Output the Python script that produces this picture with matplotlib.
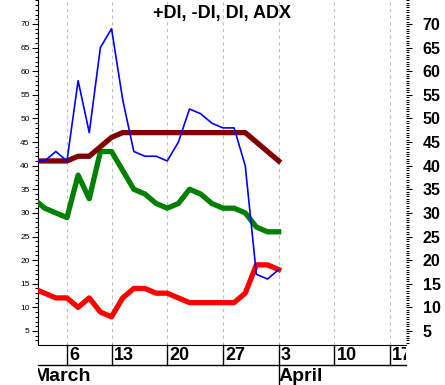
import matplotlib
matplotlib.use("Agg")
import matplotlib.pyplot as plt
import numpy as np
from matplotlib.transforms import Bbox, TransformedBbox
from matplotlib.ticker import MultipleLocator

plt.rcParams['font.family'] = ['Liberation Sans', 'DejaVu Sans']

# trading sessions, 0 = Mar 6
session = np.arange(-3, 20)
plus_di = [41, 41, 43, 41, 58, 47, 65, 69, 54, 43, 42, 42, 41, 45, 52, 51, 49, 48, 48, 40, 17, 16, 18]
minus_di = [14, 13, 12, 12, 10, 12, 9, 8, 12, 14, 14, 13, 13, 12, 11, 11, 11, 11, 11, 13, 19, 19, 18]
di = [33, 31, 30, 29, 38, 33, 43, 43, 39, 35, 34, 32, 31, 32, 35, 34, 32, 31, 31, 30, 27, 26, 26]
adx = [41, 41, 41, 41, 42, 42, 44, 46, 47, 47, 47, 47, 47, 47, 47, 47, 47, 47, 47, 47, 45, 43, 41]

week_pos = [0, 4, 9, 14, 19, 24, 29]
week_labels = ['6', '13', '20', '27', '3', '10', '17']
months = [('March', -3.0), ('April', 19)]

fig = plt.figure(figsize=(4.45, 3.85), dpi=100)
ax = fig.add_axes([38 / 445, 40 / 385, 368 / 445, 345 / 385])

for p in week_pos:
    ax.axvline(p, color='#c0c0c0', lw=0.8, ls=(0, (3, 3)), zorder=0)

ax.plot(session, minus_di, color='#ff0000', lw=3.8, zorder=3)
ax.plot(session, di, color='#008000', lw=3.8, zorder=3)
ax.plot(session, adx, color='#800000', lw=3.8, zorder=3)
ax.plot(session, plus_di, color='#0000ff', lw=1.2, zorder=4)

ax.set_xlim(-2.6, 30.43)
ax.set_ylim(2.03, 75.08)

ax.spines['top'].set_visible(False)
ax.spines['right'].set_visible(False)
ax.set_xticks([])
ax.yaxis.set_minor_locator(MultipleLocator(1))
ax.set_yticks(np.arange(5, 71, 5))
ax.tick_params(axis='y', which='major', length=4, width=0.8, labelsize=6, pad=2)
ax.tick_params(axis='y', which='minor', length=2, width=0.8)

ax2 = ax.twinx()
ax2.set_ylim(ax.get_ylim())
for s in ax2.spines.values():
    s.set_visible(False)
ax2.set_yticks(np.arange(5, 71, 5))
ax2.yaxis.set_minor_locator(MultipleLocator(0.5))
ax2.tick_params(axis='y', which='major', length=4, width=0.8, labelsize=11.5, pad=8)
ax2.tick_params(axis='y', which='minor', length=2.2, width=0.8)
for lbl in ax2.get_yticklabels():
    lbl.set_fontweight('bold')

ax.text(0.5, 0.96, '+DI, -DI, DI, ADX', transform=ax.transAxes, ha='center', va='center',
        fontsize=13, fontweight='bold')

# date axis below the plot
tr = ax.get_xaxis_transform()
clip = TransformedBbox(Bbox([[38 / 445, 0], [406 / 445, 1]]), fig.transFigure)
ax.plot([0, 1], [-0.058, -0.058], transform=ax.transAxes, color='black', lw=1, clip_on=False)
for p, lab in zip(week_pos, week_labels):
    ax.plot([p, p], [0, -0.058], transform=tr, color='black', lw=1, clip_on=False)
    t = ax.annotate(lab, (p, -0.031), xycoords=tr, xytext=(1.5, 0), textcoords='offset points',
                    ha='left', va='center', fontsize=13, fontweight='bold', annotation_clip=False)
    t.set_clip_box(clip)
    t.set_clip_on(True)
ax.plot([19, 19], [-0.058, -0.12], transform=tr, color='black', lw=1, clip_on=False)
for name, p in months:
    t = ax.annotate(name, (p, -0.09), xycoords=tr, xytext=(0, 0), textcoords='offset points',
                    ha='left', va='center', fontsize=14, fontweight='bold', annotation_clip=False)
    t.set_clip_box(clip)
    t.set_clip_on(True)

fig.savefig('out.png', dpi=100)
